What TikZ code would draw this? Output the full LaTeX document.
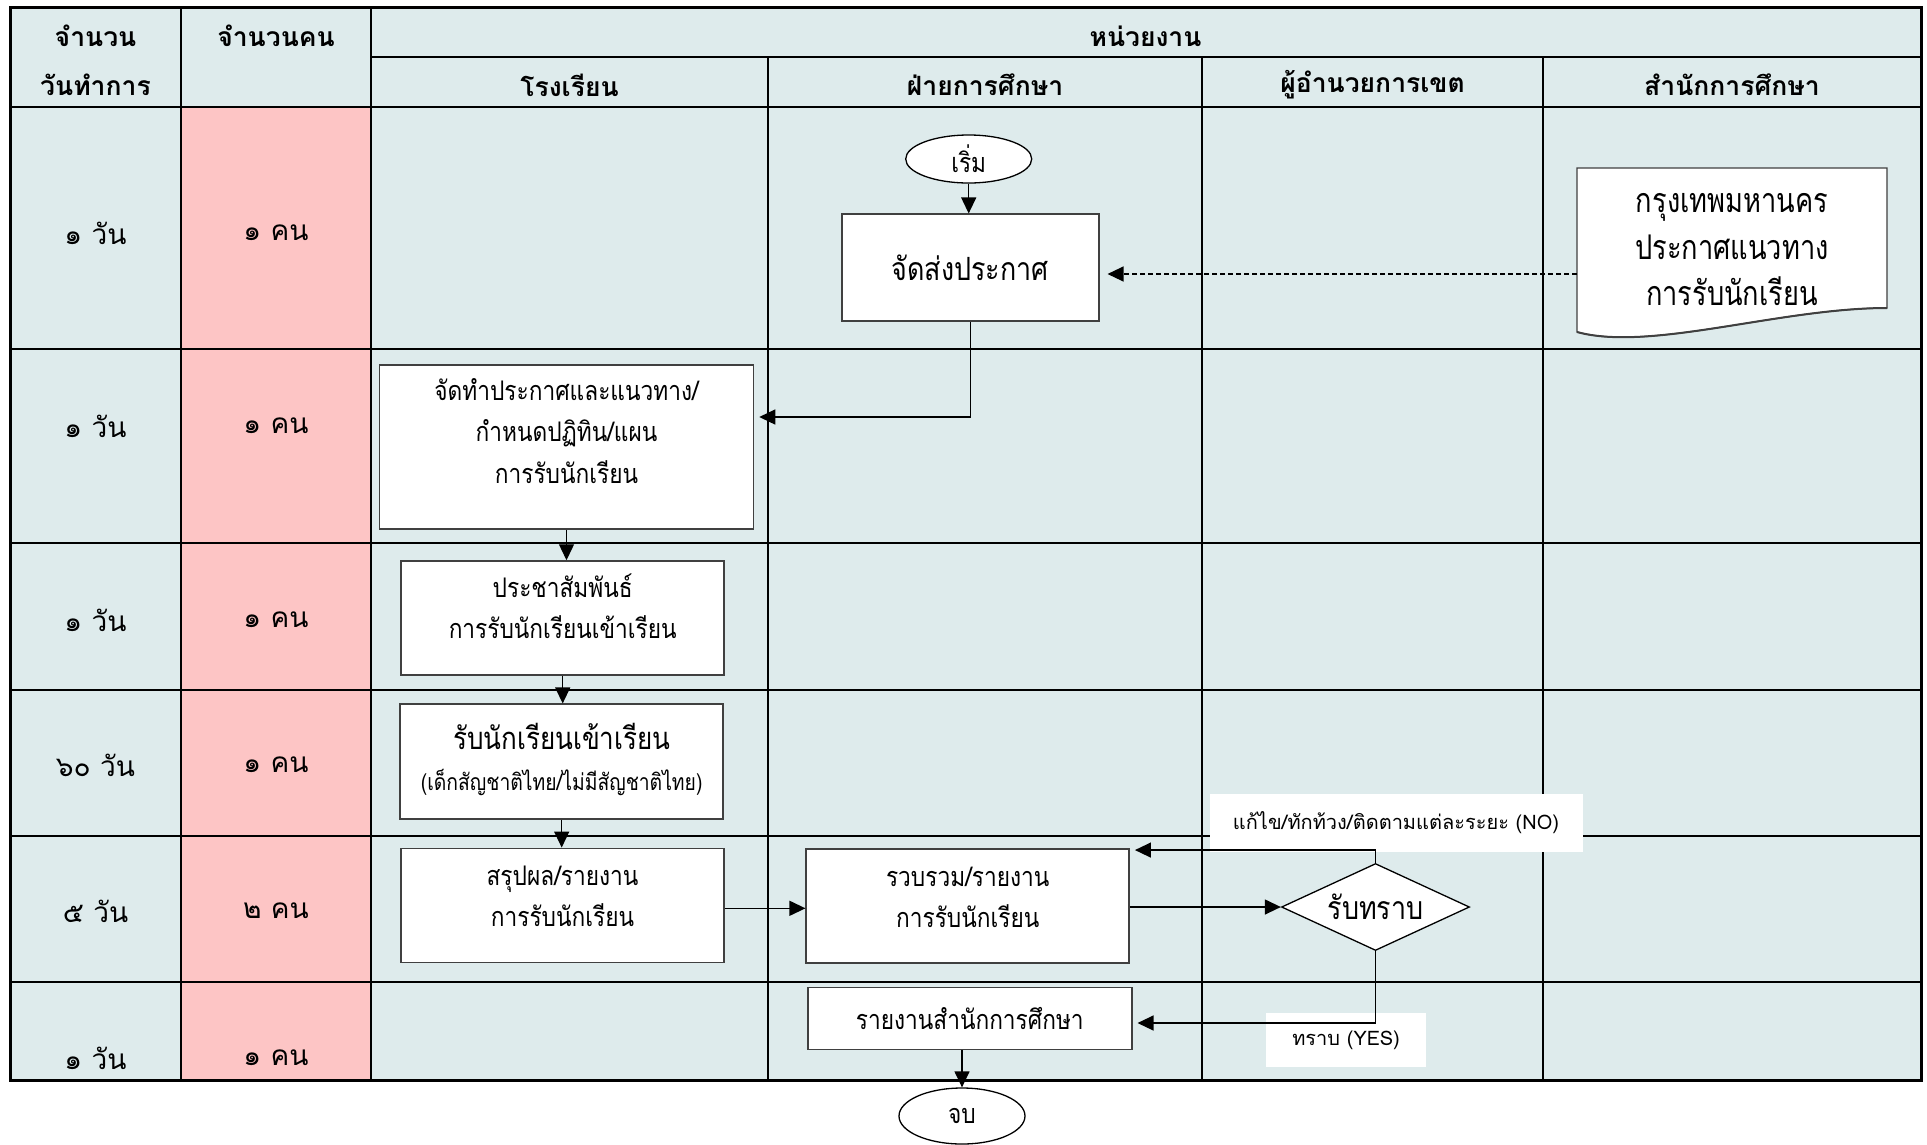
\documentclass[tikz,border=0pt]{standalone}
\usepackage{fontspec}
\setmainfont[Script=Thai]{Loma}
\newfontfamily\boxface[Script=Thai,FakeStretch=0.84]{Loma}
\newfontfamily\docface[Script=Thai,FakeStretch=0.8]{Loma}
\usetikzlibrary{arrows.meta,shapes.geometric}
\definecolor{cellbg}{HTML}{DEEBEC}
\definecolor{pinkbg}{HTML}{FDC5C5}
\definecolor{boxline}{HTML}{404040}
% stacked centred lines, optional extra space below to lift the text
\newcommand\stack[2][0pt]{\begin{tabular}{@{}c@{}}#2\\[#1]\end{tabular}}
\newcommand\hdrfont{\bfseries\fontsize{26.5}{30}\selectfont}
\newcommand\rowfont{\fontsize{28}{32}\selectfont}
\newcommand\boxfont{\boxface\fontsize{27}{41.5}\selectfont}
\newcommand\bigboxfont{\boxface\fontsize{32}{41.5}\selectfont}
\newcommand\docfont{\docface\fontsize{34}{46.5}\selectfont}
\newcommand\tagfont{\fontsize{20}{24}\selectfont}
\begin{document}
\begin{tikzpicture}[x=1pt,y=-1pt,
  gridline/.style={line width=1.6pt},
  heavyline/.style={line width=2.6pt},
  flowbox/.style={rectangle,draw=boxline,line width=1.5pt,fill=white,inner sep=0pt,font=\boxfont},
  terminal/.style={ellipse,draw=black,line width=1.3pt,fill=white,inner sep=0pt,font=\boxfont},
  decision/.style={diamond,aspect=2.15,draw=black,line width=1.3pt,fill=white,inner sep=0pt,font=\bigboxfont},
  tag/.style={rectangle,fill=white,inner sep=0pt,font=\tagfont},
  hdr/.style={inner sep=0pt,font=\hdrfont},
  rowlbl/.style={inner sep=0pt,font=\rowfont},
  flow/.style={line width=1.3pt,-{Triangle[length=16pt,width=15pt]}},
  dashflow/.style={flow,dash pattern=on 5pt off 3pt}]
\useasboundingbox[fill=white] (0,0) rectangle (1927,1144);

% table background
\fill[cellbg] (10,7) rectangle (1921,1080);
\fill[pinkbg] (181,107) rectangle (371,1080);

% grid lines
\draw[gridline] (371,57) -- (1921,57);
\draw[gridline] (10,107) -- (1921,107);
\foreach \y in {349,543,836,982} \draw[gridline] (10,\y) -- (1921,\y);
\draw[heavyline] (10,690) -- (1921,690);
\foreach \x in {181,371} \draw[gridline] (\x,7) -- (\x,1080);
\foreach \x in {768,1202} \draw[gridline] (\x,57) -- (\x,1080);
\draw[heavyline] (1543,57) -- (1543,1080);
\draw[line width=3pt] (10,7) rectangle (1921,1080);

% header texts
\node[hdr] (h-days1) at (95.5,36) {จำนวน};
\node[hdr] (h-days2) at (95.5,85) {วันทำการ};
\node[hdr] (h-staff) at (276,36) {จำนวนคน};
\node[hdr] (h-units) at (1145.5,36) {หน่วยงาน};
\node[hdr] (h-school) at (569.5,85) {โรงเรียน};
\node[hdr] (h-edu) at (985,85) {ฝ่ายการศึกษา};
\node[hdr] (h-dir) at (1372.5,85) {ผู้อำนวยการเขต};
\node[hdr] (h-office) at (1732,85) {สำนักการศึกษา};

% duration and staff per step
\node[rowlbl] (d1) at (95.5,233) {๑ วัน};   \node[rowlbl] (p1) at (276,233) {๑ คน};
\node[rowlbl] (d2) at (95.5,426) {๑ วัน};   \node[rowlbl] (p2) at (276,426) {๑ คน};
\node[rowlbl] (d3) at (95.5,620) {๑ วัน};   \node[rowlbl] (p3) at (276,620) {๑ คน};
\node[rowlbl] (d4) at (95.5,765) {๖๐ วัน};  \node[rowlbl] (p4) at (276,765) {๑ คน};
\node[rowlbl] (d5) at (95.5,911) {๕ วัน};   \node[rowlbl] (p5) at (276,911) {๒ คน};
\node[rowlbl] (d6) at (95.5,1058) {๑ วัน};  \node[rowlbl] (p6) at (276,1058) {๑ คน};

% branch labels (white patches)
\node[tag,minimum width=373pt,minimum height=58pt] (nolbl) at (1396,823)
  {แก้ไข/ทักท้วง/ติดตามแต่ละระยะ (NO)};
\node[tag,minimum width=160pt,minimum height=54pt] (yeslbl) at (1346,1040)
  {ทราบ (YES)};

% announcement document
\path[draw=boxline,line width=1.3pt,fill=white]
  (1577,168) -- (1887,168) -- (1887,308)
  .. controls (1780,308) and (1650,352) .. (1577,332) -- cycle;
\draw[boxline,line width=2pt] (1887,308) .. controls (1780,308) and (1650,352) .. (1577,332);
\node[inner sep=0pt,font=\docfont,minimum width=310pt,minimum height=164pt] (doc) at (1732,250)
  {\stack{กรุงเทพมหานคร\\ประกาศแนวทาง\\การรับนักเรียน}};
\coordinate (dsrc) at (1577,274);

% process steps
\node[terminal,minimum width=126pt,minimum height=48pt] (start) at (968.7,159) {เริ่ม};
\node[flowbox,font=\bigboxfont,minimum width=257pt,minimum height=107pt] (box1) at (970.3,267.7) {จัดส่งประกาศ};
\node[flowbox,minimum width=374pt,minimum height=164pt] (box2) at (566.5,447)
  {\stack[27pt]{จัดทำประกาศและแนวทาง/\\กำหนดปฏิทิน/แผน\\การรับนักเรียน}};
\node[flowbox,minimum width=323pt,minimum height=114pt] (box3) at (562.7,618)
  {\stack[17pt]{ประชาสัมพันธ์\\การรับนักเรียนเข้าเรียน}};
\node[flowbox,minimum width=323pt,minimum height=115pt] (box4) at (561.7,761.7)
  {\stack{{\fontsize{31}{41.5}\selectfont รับนักเรียนเข้าเรียน}\\{\fontsize{23}{41.5}\selectfont (เด็กสัญชาติไทย/ไม่มีสัญชาติไทย)}}};
\node[flowbox,minimum width=323pt,minimum height=114pt] (box5) at (562.5,905.3)
  {\stack[15pt]{สรุปผล/รายงาน\\การรับนักเรียน}};
\node[flowbox,minimum width=323pt,minimum height=114pt] (box6) at (967.7,905.8)
  {\stack[14pt]{รวบรวม/รายงาน\\การรับนักเรียน}};
\node[decision,minimum width=188pt,minimum height=87pt] (dec) at (1375.5,907) {รับทราบ};
\node[flowbox,minimum width=324pt,minimum height=62pt] (box7) at (969.8,1018.5) {รายงานสำนักการศึกษา};
\node[terminal,minimum width=126pt,minimum height=56pt] (end) at (962,1116) {จบ};

% connectors
\draw[flow] (start.south) -- (start.south |- box1.north);
\draw[dashflow,shorten >=8pt] (dsrc) -- (dsrc -| box1.east);
\draw[flow,shorten >=5pt] (box1.south) |- ([yshift=30pt]box2.east);
\draw[flow] (box2.south) -- (box2.south |- box3.north);
\draw[flow] (box3.south) -- (box3.south |- box4.north);
\draw[flow] (box4.south) -- (box4.south |- box5.north);
\draw[flow] ([yshift=-3pt]box5.east) -- ([yshift=-3pt]box5.east -| box6.west);
\draw[flow] (box6.east |- dec.west) -- (dec.west);
\draw[flow,shorten >=5pt] (dec.north) |- ([yshift=-2pt]box6.north east);
\draw[flow,shorten >=5pt] (dec.south) |- ([yshift=-4.5pt]box7.east);
\draw[flow] (end.north |- box7.south) -- (end.north);
\end{tikzpicture}
\end{document}
